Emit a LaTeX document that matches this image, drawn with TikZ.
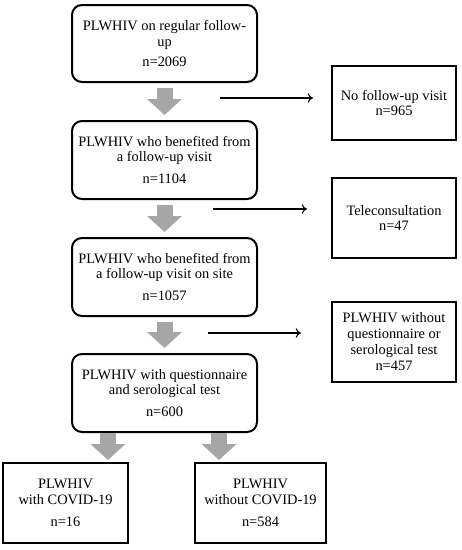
\documentclass[tikz,border=0pt]{standalone}
\usepackage{fontspec}
\setmainfont{Liberation Serif}
\usetikzlibrary{arrows.meta,calc}
\definecolor{garrowcol}{RGB}{166,166,166}
\tikzset{
  x=0.75pt, y=-0.75pt,
  mainbox/.style={draw, line width=1.5pt, rounded corners=7.5pt, align=center,
    minimum width=138.75pt, minimum height=58.5pt, inner sep=0pt,
    font=\fontsize{10.8}{11.5}\selectfont},
  sidebox/.style={draw, line width=1.5pt, align=center, minimum width=93pt,
    minimum height=60pt, inner sep=0pt, font=\fontsize{10.8}{11.5}\selectfont},
  garrow/.style={draw=garrowcol, line width=12pt,
    -{Triangle[length=12pt,width=25.5pt]}},
  thinarrow/.style={draw, line width=0.8pt, -{To[length=4pt,width=7pt]}}
}
\begin{document}
\begin{tikzpicture}
\useasboundingbox (0,0) rectangle (461,550);
% main column
\node[mainbox, minimum height=57.75pt] (b1) at (164.5,43.5) {PLWHIV on regular follow-\\[1pt] up\\[3.5pt] n=2069};
\node[mainbox] (b2) at (164.5,160) {PLWHIV who benefited from\\ a follow-up visit\\[5pt] n=1104};
\node[mainbox] (b3) at (164.5,277) {PLWHIV who benefited from\\ a follow-up visit on site\\[5pt] n=1057};
\node[mainbox] (b4) at (164.5,393) {PLWHIV with questionnaire\\ and serological test\\[5pt] n=600};
% side boxes
\node[sidebox, minimum height=55.5pt] (r1) at (394,103) {No follow-up visit\\ n=965};
\node[sidebox] (r2) at (394,218) {Teleconsultation\\ n=47};
\node[sidebox, font=\fontsize{10.8}{12}\selectfont] (r3) at (394,342) {PLWHIV without\\ questionnaire or\\ serological test\\ n=457};
% bottom boxes
\node[sidebox, minimum width=93.75pt] (c1) at (65.5,503) {PLWHIV\\[1pt] with COVID-19\\[5pt] n=16};
\node[sidebox, minimum width=98.25pt] (c2) at (260.5,503) {PLWHIV\\[1pt] without COVID-19\\[5pt] n=584};
% gray arrows
\draw[garrow] ([yshift=-3.75pt]b1.south) -- ([yshift=3.75pt]b2.north);
\draw[garrow] ([yshift=-3.75pt]b2.south) -- ([yshift=3.75pt]b3.north);
\draw[garrow] ([yshift=-3.75pt]b3.south) -- ([yshift=3.75pt]b4.north);
\coordinate (d1s) at ([xshift=-42.4pt]b4.south);
\coordinate (d2s) at ([xshift=40.9pt]b4.south);
\draw[garrow] (d1s) -- ($(d1s |- c1.north)+(0,-2)$);
\draw[garrow] (d2s) -- ($(d2s |- c2.north)+(0,-2)$);
% thin arrows
\coordinate (t1s) at (220,98); \coordinate (t1e) at (313,98);
\coordinate (t2s) at (213,209); \coordinate (t2e) at (307,209);
\coordinate (t3s) at (208,333); \coordinate (t3e) at (301,333);
\draw[thinarrow] (t1s) -- (t1e);
\draw[thinarrow] (t2s) -- (t2e);
\draw[thinarrow] (t3s) -- (t3e);
\end{tikzpicture}
\end{document}
